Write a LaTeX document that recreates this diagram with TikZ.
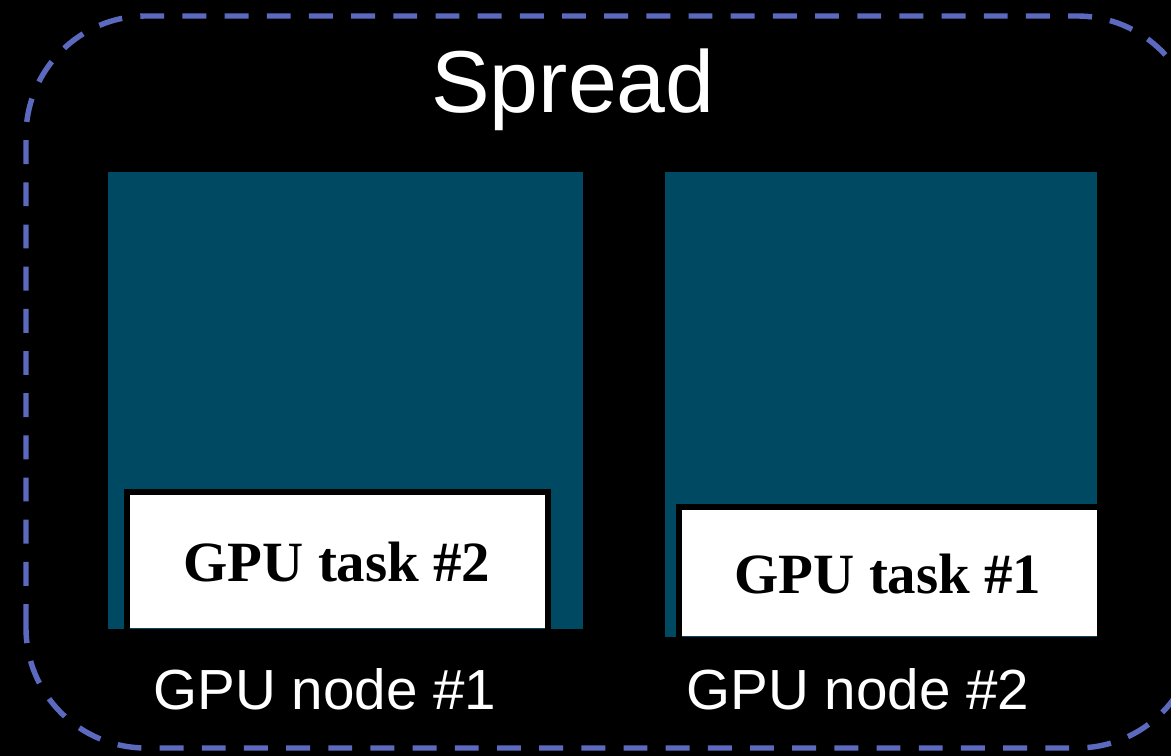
\documentclass[tikz,border=0pt]{standalone}
\usepackage{fontspec}
\setmainfont{Liberation Sans}
\newfontfamily\taskfont{Liberation Serif}
\usepackage{tikz}
\usetikzlibrary{calc}

\definecolor{frameblue}{RGB}{91,106,190}
\definecolor{gputeal}{RGB}{0,73,98}

\begin{document}
\begin{tikzpicture}[
    tasktext/.style={anchor=base, font=\taskfont\bfseries\fontsize{16.2}{19}\selectfont, text=black},
    gpulabel/.style={anchor=base, font=\fontsize{16.1}{19}\selectfont, text=white}]
  % canvas: 1171 x 756 px -> 11.71 x 7.56
  \fill[black] (0,0) rectangle (11.71,7.56);
  \useasboundingbox (0,0) rectangle (11.71,7.56);
  \clip (0,0) rectangle (11.71,7.56);

  % Spread group (dashed frame, runs off the right edge)
  \draw[frameblue, line width=1.55pt, dash pattern=on 6.8pt off 5.2pt, rounded corners=1.2cm]
    (0.26,0.08) rectangle (11.97,7.40);
  \node[anchor=base, text=white, font=\fontsize{25}{30}\selectfont] (title) at (5.73,6.43) {Spread};

  % GPU node #1 with task #2
  \fill[gputeal] (1.08,1.27) rectangle (5.83,5.84);
  \fill[white] (1.27,1.28) rectangle (5.48,2.64);
  \draw[black, line width=1.7pt] (1.27,1.27) -- (1.27,2.64) -- (5.48,2.64) -- (5.48,1.27);
  \node[tasktext] (task2) at (3.37,1.74) {GPU task \#2};
  \node[gpulabel] (gpu1) at (3.25,0.46) {GPU node \#1};

  % GPU node #2 with task #1
  \fill[gputeal] (6.65,1.19) rectangle (10.97,5.84);
  \fill[white] (6.79,1.20) rectangle (10.97,2.49);
  \draw[black, line width=1.7pt] (6.79,1.19) -- (6.79,2.49) -- (10.97,2.49);
  \node[tasktext] (task1) at (8.88,1.62) {GPU task \#1};
  \node[gpulabel] (gpu2) at (8.58,0.46) {GPU node \#2};
\end{tikzpicture}
\end{document}
